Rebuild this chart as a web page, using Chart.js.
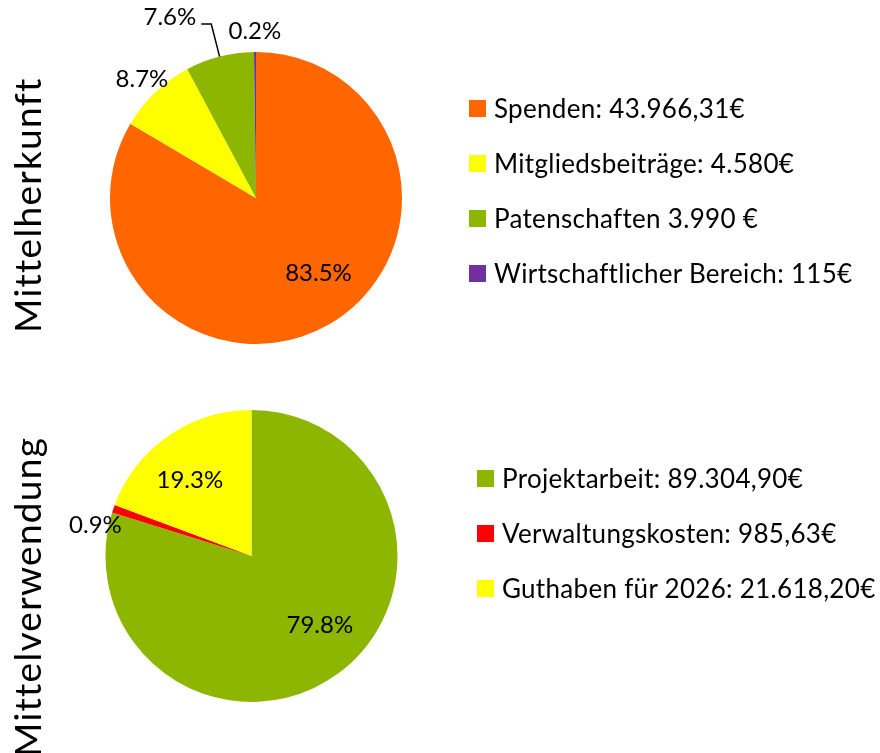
<!DOCTYPE html>
<html lang="de">
<head>
<meta charset="utf-8">
<title>Mittelherkunft und Mittelverwendung</title>
<script src="https://cdn.jsdelivr.net/npm/chart.js@4"></script>
<style>
  html, body { margin: 0; padding: 0; background: #fff; }
  body { width: 880px; height: 753px; position: relative; overflow: hidden; font-family: Lato, sans-serif; color: #000; }
  canvas { position: absolute; left: 0; }
  #herkunftChart { top: 0; }
  #verwendungChart { top: 380px; }
  .vtitle {
    position: absolute; font-size: 37px; line-height: 37px; white-space: nowrap; letter-spacing: 1.3px;
    transform-origin: 0 0; transform: rotate(-90deg);
  }
  .legend { position: absolute; }
  .legend .item { display: flex; align-items: center; height: 24px; margin-bottom: 31px; font-size: 26px; letter-spacing: 0.3px; white-space: nowrap; }
  .legend .box { width: 17px; height: 17px; flex: none; }
</style>
</head>
<body>
<canvas id="herkunftChart" width="880" height="375"></canvas>
<canvas id="verwendungChart" width="880" height="373"></canvas>
<div class="vtitle" style="left:8px; top:333px">Mittelherkunft</div>
<div class="vtitle" style="left:8px; top:757px">Mittelverwendung</div>
<div class="legend" id="herkunftLegend" style="left:469px; top:96px"></div>
<div class="legend" id="verwendungLegend" style="left:477px; top:466px"></div>
<script>
// Mittelherkunft
const herkunftLabels = ['Spenden: 43.966,31€', 'Mitgliedsbeiträge: 4.580€', 'Patenschaften 3.990 €', 'Wirtschaftlicher Bereich: 115€'];
const herkunftValues = [43966.31, 4580, 3990, 115];
const herkunftColors = ['#FF6600', '#FFFF00', '#8DB600', '#7030A0'];

// Mittelverwendung
const verwendungLabels = ['Projektarbeit: 89.304,90€', 'Verwaltungskosten: 985,63€', 'Guthaben für 2026: 21.618,20€'];
const verwendungValues = [89304.90, 985.63, 21618.20];
const verwendungColors = ['#8DB600', '#FF0000', '#FFFF00'];

Chart.defaults.font.family = 'Lato, sans-serif';
Chart.defaults.color = '#000';

// percentage labels: distance from centre (share of radius), angle shift in degrees, leader line
function sliceLabels(radius, shift, leader) {
  return {
    id: 'sliceLabels',
    afterDatasetsDraw(chart) {
      const ctx = chart.ctx;
      const values = chart.data.datasets[0].data;
      const total = values.reduce((a, b) => a + b, 0);
      ctx.save();
      ctx.font = '24px Lato, sans-serif';
      ctx.fillStyle = '#000';
      ctx.strokeStyle = '#000';
      ctx.lineWidth = 1.5;
      chart.getDatasetMeta(0).data.forEach((arc, i) => {
        const p = arc.getProps(['x', 'y', 'startAngle', 'endAngle', 'outerRadius'], true);
        const mid = (p.startAngle + p.endAngle) / 2 + shift[i] * Math.PI / 180;
        const lx = p.x + Math.cos(mid) * p.outerRadius * radius[i];
        const ly = p.y + Math.sin(mid) * p.outerRadius * radius[i];
        const text = (values[i] / total * 100).toFixed(1) + '%';
        if (leader[i]) {
          ctx.beginPath();
          ctx.moveTo(p.x + Math.cos(mid) * p.outerRadius, p.y + Math.sin(mid) * p.outerRadius);
          ctx.lineTo(lx, ly);
          ctx.lineTo(lx - 10, ly);
          ctx.stroke();
          ctx.textAlign = 'right';
          ctx.textBaseline = 'alphabetic';
          ctx.fillText(text, lx - 15, ly + 1);
        } else {
          ctx.textAlign = 'center';
          ctx.textBaseline = 'middle';
          ctx.fillText(text, lx, ly);
        }
      });
      ctx.restore();
    }
  };
}

// legend as html, built from the chart's own legend items
function buildLegend(chart, containerId, textGap) {
  const container = document.getElementById(containerId);
  const items = chart.options.plugins.legend.labels.generateLabels(chart);
  items.forEach(item => {
    const row = document.createElement('div');
    row.className = 'item';
    const box = document.createElement('span');
    box.className = 'box';
    box.style.background = item.fillStyle;
    box.style.marginRight = textGap + 'px';
    const label = document.createElement('span');
    label.textContent = item.text;
    row.appendChild(box);
    row.appendChild(label);
    container.appendChild(row);
  });
}

function createPie(elementId, labels, values, colors, padding, labelPlugin) {
  const ctx = document.getElementById(elementId).getContext('2d');
  return new Chart(ctx, {
    type: 'pie',
    data: {
      labels: labels,
      datasets: [{
        data: values,
        backgroundColor: colors,
        borderColor: colors,
        borderWidth: 0,
        hoverOffset: 0,
        hoverBorderWidth: 0
      }]
    },
    options: {
      responsive: false,
      animation: false,
      devicePixelRatio: 1,
      events: [],
      layout: { padding: padding },
      plugins: {
        tooltip: { enabled: false },
        legend: { display: false }
      }
    },
    plugins: [labelPlugin]
  });
}

const herkunftChart = createPie('herkunftChart', herkunftLabels, herkunftValues, herkunftColors,
  { left: 74, right: 442, top: 52, bottom: 31 },
  sliceLabels([0.67, 1.13, 1.23, 1.14], [-10, 0, 0, 0], [false, false, true, false]));
buildLegend(herkunftChart, 'herkunftLegend', 8);

const verwendungChart = createPie('verwendungChart', verwendungLabels, verwendungValues, verwendungColors,
  { left: 57, right: 434, top: 30, bottom: 51 },
  sliceLabels([0.665, 1.09, 0.67], [-8.4, -7.6, -4.3], [false, false, false]));
buildLegend(verwendungChart, 'verwendungLegend', 8);
</script>
</body>
</html>
